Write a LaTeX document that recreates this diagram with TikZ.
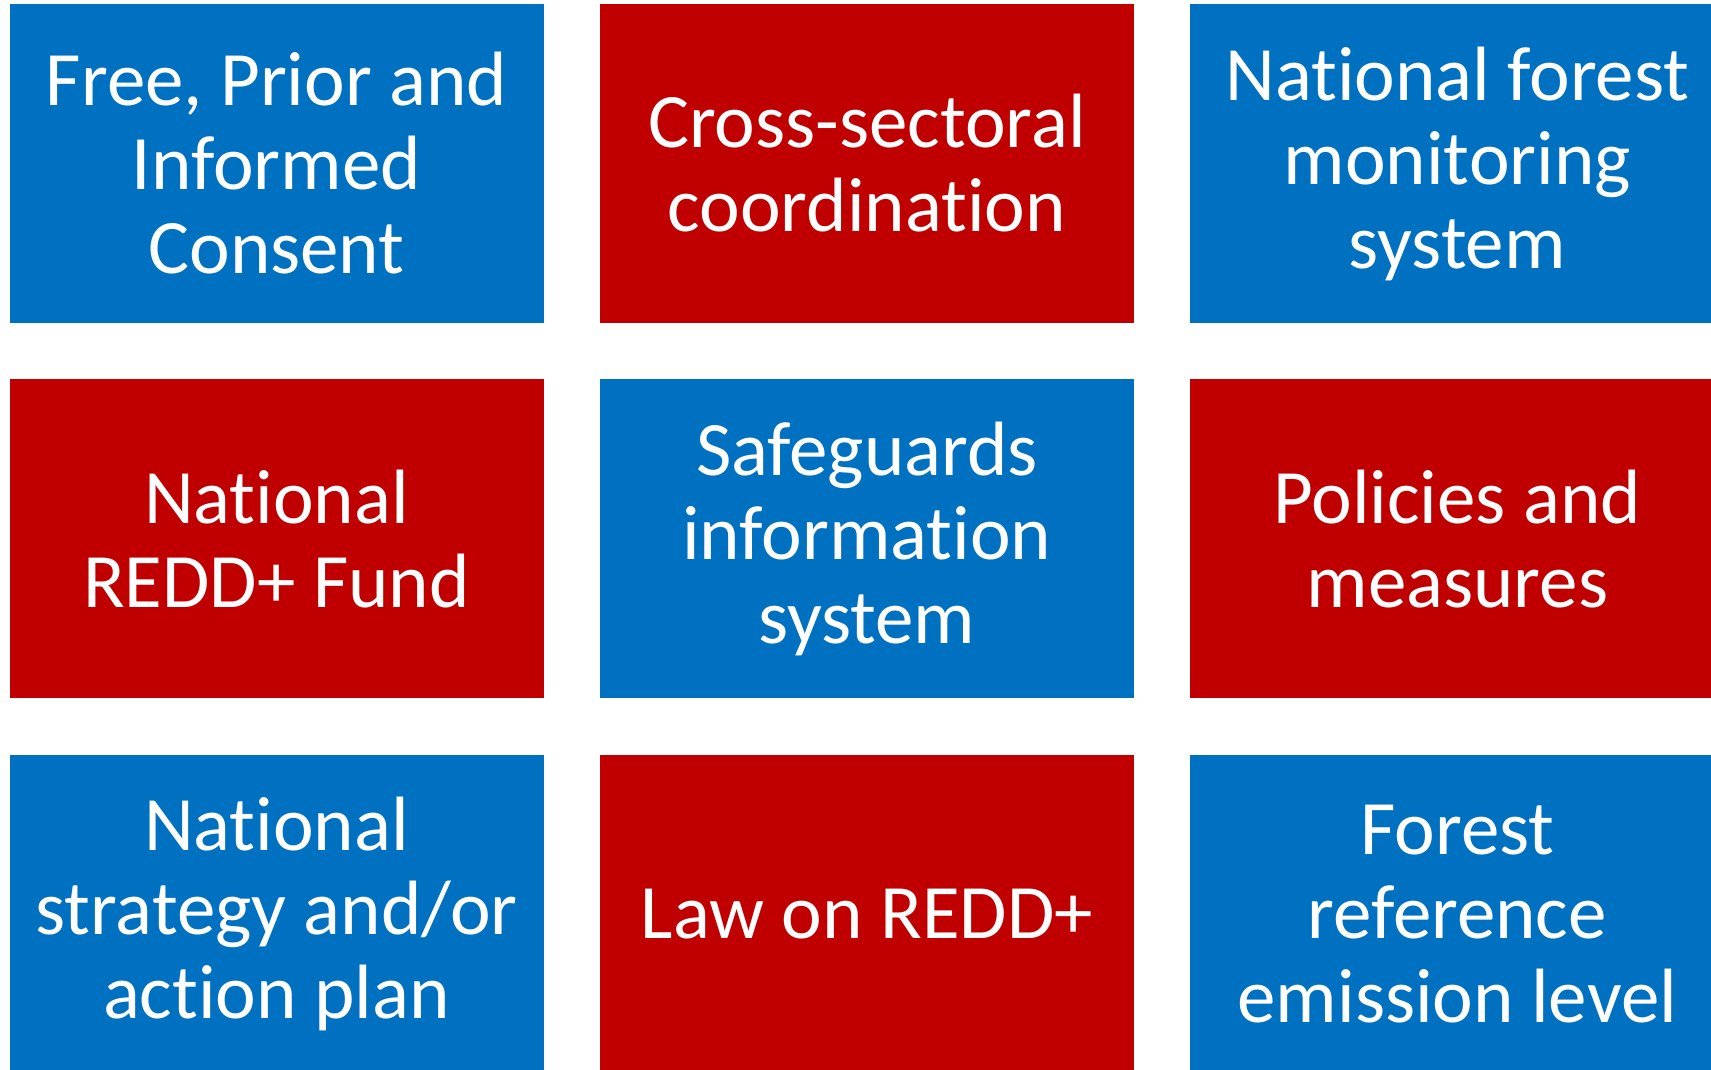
\documentclass[tikz,border=0pt]{standalone}
\usepackage{fontspec}
\setmainfont{Carlito}[Ligatures={NoCommon,NoRequired,NoContextual},Contextuals=NoAlternate]
\usetikzlibrary{positioning}
\definecolor{tileblue}{HTML}{0070C0}
\definecolor{tilered}{HTML}{C00000}

\begin{document}
\begin{tikzpicture}[x=1pt,y=-1pt,
    node distance=56pt,
    tile/.style={minimum width=534pt, minimum height=319pt, inner sep=0pt,
      align=center, text=white, font=\fontsize{77}{84}\selectfont},
    bluetile/.style={tile, fill=tileblue},
    redtile/.style={tile, fill=tilered}]
    \useasboundingbox (0,0) rectangle (1711,1070);
    % first row
    \node[bluetile] (fpic) at (276.5,163.5) {Free, Prior and\\Informed\\Consent};
    \node[redtile, right=of fpic] (coord) {Cross-sectoral\\coordination};
    \node[bluetile, right=of coord] (nfms) {National forest\\monitoring\\system};
    % second row
    \node[redtile, below=of fpic] (fund) {National\\REDD+ Fund};
    \node[bluetile, below=of coord] (sis) {Safeguards\\information\\system};
    \node[redtile, below=of nfms] (pams) {Policies and\\measures};
    % third row
    \node[bluetile, below=of fund] (plan) {National\\strategy and/or\\action plan};
    \node[redtile, below=of sis] (law) {Law on REDD+};
    \node[bluetile, below=of pams] (frel) {Forest\\reference\\emission level};
\end{tikzpicture}
\end{document}
